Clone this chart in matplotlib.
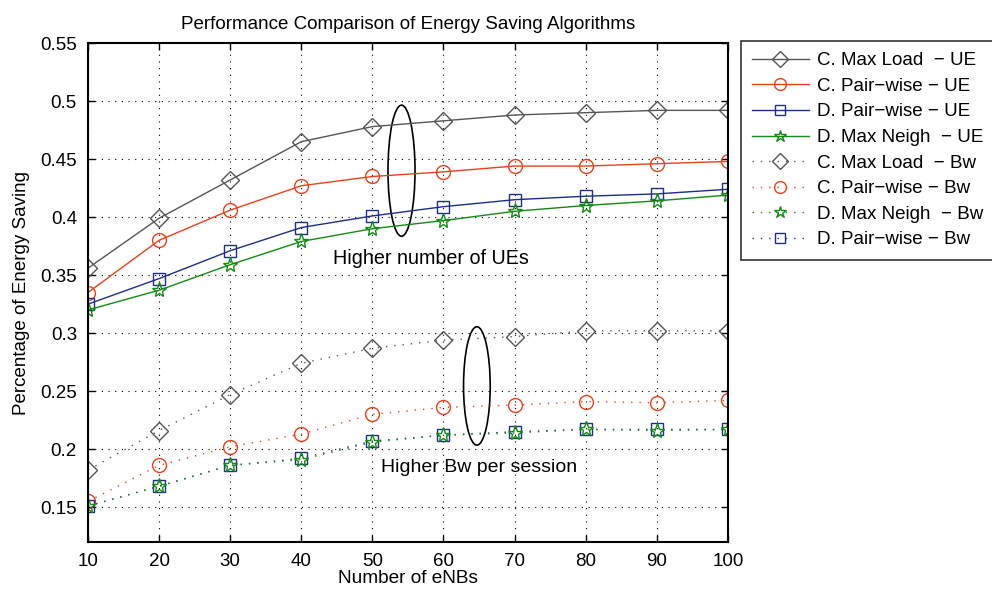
import matplotlib
matplotlib.use("Agg")
import matplotlib.pyplot as plt
from matplotlib.patches import Ellipse

plt.rcParams['font.family'] = ['Liberation Sans', 'DejaVu Sans']

x = [10, 20, 30, 40, 50, 60, 70, 80, 90, 100]

c_maxload_ue = [0.356, 0.399, 0.432, 0.465, 0.478, 0.483, 0.488, 0.490, 0.492, 0.492]
c_pairwise_ue = [0.335, 0.380, 0.406, 0.427, 0.435, 0.439, 0.444, 0.444, 0.446, 0.448]
d_pairwise_ue = [0.325, 0.347, 0.371, 0.391, 0.401, 0.409, 0.415, 0.418, 0.420, 0.424]
d_maxneigh_ue = [0.320, 0.337, 0.359, 0.379, 0.390, 0.397, 0.405, 0.410, 0.414, 0.419]
c_maxload_bw = [0.182, 0.216, 0.247, 0.274, 0.287, 0.294, 0.297, 0.302, 0.302, 0.302]
c_pairwise_bw = [0.155, 0.186, 0.202, 0.213, 0.230, 0.236, 0.238, 0.241, 0.240, 0.242]
d_maxneigh_bw = [0.151, 0.168, 0.186, 0.191, 0.206, 0.212, 0.214, 0.217, 0.216, 0.217]
d_pairwise_bw = [0.151, 0.168, 0.186, 0.192, 0.207, 0.212, 0.215, 0.217, 0.217, 0.217]

labels = [
    "C. Max Load  \u2212 UE",
    "C. Pair\u2212wise \u2212 UE",
    "D. Pair\u2212wise \u2212 UE",
    "D. Max Neigh  \u2212 UE",
    "C. Max Load  \u2212 Bw",
    "C. Pair\u2212wise \u2212 Bw",
    "D. Max Neigh  \u2212 Bw",
    "D. Pair\u2212wise \u2212 Bw",
]

gray = '#555555'
red = '#e8401c'
blue = '#1c2e85'
green = '#138a13'

fig = plt.figure(figsize=(9.92, 5.9), dpi=100)
ax = fig.add_axes([0.0887, 0.0814, 0.645, 0.8456])

solid_ls = '-'
dot_ls = (0, (1, 5))

h = []
h += ax.plot(x, c_maxload_ue, marker='D', color=gray, ls=solid_ls, lw=1.0, ms=9, mfc='none', label=labels[0])
h += ax.plot(x, c_pairwise_ue, marker='o', color=red, ls=solid_ls, lw=1.0, ms=10, mfc='none', label=labels[1])
h += ax.plot(x, d_pairwise_ue, marker='s', color=blue, ls=solid_ls, lw=1.0, ms=9, mfc='none', label=labels[2])
h += ax.plot(x, d_maxneigh_ue, marker='*', color=green, ls=solid_ls, lw=1.0, ms=11, mfc='none', label=labels[3])
h += ax.plot(x, c_maxload_bw, marker='D', color=gray, ls=dot_ls, lw=1.0, ms=9, mfc='none', label=labels[4])
h += ax.plot(x, c_pairwise_bw, marker='o', color=red, ls=dot_ls, lw=1.0, ms=10, mfc='none', label=labels[5])
h += ax.plot(x, d_pairwise_bw, marker='s', color=blue, ls=dot_ls, lw=1.0, ms=9, mfc='none', label=labels[7])
h += ax.plot(x, d_maxneigh_bw, marker='*', color=green, ls=dot_ls, lw=1.0, ms=11, mfc='none', label=labels[6])

ax.set_xlim(10, 100)
ax.set_ylim(0.12, 0.55)
ax.set_xticks(x)
yt = [0.15, 0.2, 0.25, 0.3, 0.35, 0.4, 0.45, 0.5, 0.55]
ax.set_yticks(yt)
ax.set_yticklabels(['0.15', '0.2', '0.25', '0.3', '0.35', '0.4', '0.45', '0.5', '0.55'])
ax.tick_params(direction='in', top=True, right=True, labelsize=13.5, length=5, width=1, pad=8)
ax.grid(True, linestyle=(0, (1, 5)), color='black', linewidth=0.8)
for s in ax.spines.values():
    s.set_linewidth(1.5)

ax.set_xlabel('Number of eNBs', fontsize=13.7, labelpad=0)
ax.set_ylabel('Percentage of Energy Saving', fontsize=13.5, labelpad=7)
ax.set_title('Performance Comparison of Energy Saving Algorithms', fontsize=13.5, pad=10)

ax.add_patch(Ellipse((54.1, 0.440), 3.8, 0.113, fill=False, edgecolor='black', linewidth=1.2))
ax.add_patch(Ellipse((64.7, 0.2545), 3.75, 0.102, fill=False, edgecolor='black', linewidth=1.2))
ax.text(44.5, 0.3647, 'Higher number of UEs', fontsize=14.2, va='center', ha='left')
ax.text(51.2, 0.1845, 'Higher Bw per session', fontsize=14, va='center', ha='left')

order = [0, 1, 2, 3, 4, 5, 7, 6]
leg = fig.legend([h[i] for i in order], [h[i].get_label() for i in order],
                 loc='upper left', bbox_to_anchor=(741 / 992, 1 - 41 / 590),
                 fontsize=13.5, frameon=True, fancybox=False, edgecolor='black',
                 handlelength=3.0, borderaxespad=0, labelspacing=0.45, handletextpad=0.45,
                 borderpad=0.6, markerscale=0.85)
leg.get_frame().set_linewidth(1.2)

fig.savefig('out.png', dpi=100)
